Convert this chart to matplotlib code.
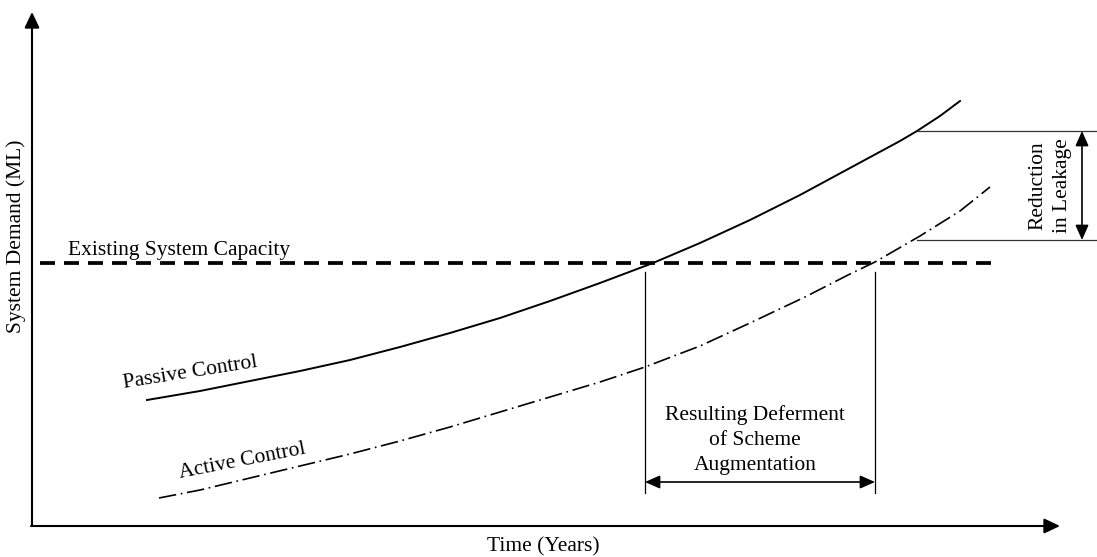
import numpy as np
import matplotlib
matplotlib.use("Agg")
import matplotlib.pyplot as plt

plt.rcParams['font.family'] = ['Liberation Serif', 'DejaVu Serif']

# schematic units: x = time, y = demand (pixel-like scale of the original sketch)
passive_t = [147, 200, 250, 300, 350, 400, 450, 500, 550, 600,
             653, 700, 750, 800, 850, 900, 917, 940, 960]
passive_d = [157, 166, 176, 186, 197, 210, 224, 239, 256, 274,
             294, 314, 337, 362, 389, 416, 426, 441, 456]

active_t = [159, 200, 250, 300, 350, 400, 450, 500, 550, 600,
            645, 700, 750, 805, 850, 875, 920, 960, 990]
active_d = [59, 67, 79, 91, 103, 116, 130, 145, 160, 175,
            190, 211, 234, 260, 283, 295, 321, 346, 370]

capacity = 294
capacity_t = [40, 997]

defer_t = [645, 875]
leak_levels = [426, 317]

H = 557


def arrow(ax, start, end, style, lw=1.3):
    ax.annotate('', xy=end, xytext=start,
                arrowprops=dict(arrowstyle=style, color='black', lw=lw,
                                shrinkA=0, shrinkB=0, mutation_scale=10))


def main():
    fig = plt.figure(figsize=(10.97, 5.57), dpi=100)
    ax = fig.add_axes([0, 0, 1, 1])
    ax.set_xlim(0, 1097)
    ax.set_ylim(0, H)
    ax.axis('off')

    head = '-|>,head_length=0.95,head_width=0.45'
    dbl = '<|-|>,head_length=0.9,head_width=0.4'

    # axes
    arrow(ax, (32, H - 526), (32, H - 12), head, lw=1.5)
    arrow(ax, (31, H - 526), (1060, H - 526), head, lw=1.5)

    # demand curves
    ax.plot(passive_t, passive_d, color='black', lw=1.4, solid_joinstyle='round')
    ax.plot(active_t, active_d, color='black', lw=1.2,
            linestyle=(0, (10.5, 2.8, 1, 2.8)))

    # existing capacity
    ax.plot(capacity_t, [capacity, capacity], color='black', lw=2.7,
            linestyle=(0, (4.0, 2.4)))

    # deferment markers
    for t in defer_t:
        ax.plot([t, t], [H - 272, H - 493], color='black', lw=0.9)
    arrow(ax, (defer_t[0], H - 482), (defer_t[1], H - 482), dbl, lw=1.2)

    # leakage reduction markers
    for lv in leak_levels:
        ax.plot([917, 1097], [lv, lv], color='#333333', lw=0.9)
    arrow(ax, (1082, leak_levels[0]), (1082, leak_levels[1]), dbl, lw=1.2)

    fs = 15.5
    ax.text(179, H - 251, 'Existing System Capacity', fontsize=fs,
            ha='center', va='center')
    ax.text(190, H - 373, 'Passive Control', fontsize=fs,
            ha='center', va='center', rotation=9)
    ax.text(242, H - 461, 'Active Control', fontsize=fs,
            ha='center', va='center', rotation=11)
    ax.text(755, H - 440, 'Resulting Deferment\nof Scheme\nAugmentation',
            fontsize=fs, ha='center', va='center', multialignment='center',
            linespacing=1.45)
    ax.text(1050, H - 186, 'Reduction\nin Leakage', fontsize=fs,
            ha='center', va='center', rotation=90, multialignment='center',
            linespacing=1.4)
    ax.text(16, H - 236, 'System Demand (ML)', fontsize=fs,
            ha='center', va='center', rotation=90)
    ax.text(543, H - 547, 'Time (Years)', fontsize=fs,
            ha='center', va='center')

    fig.savefig('out.png', dpi=100, facecolor='white')


if __name__ == "__main__":
    main()
